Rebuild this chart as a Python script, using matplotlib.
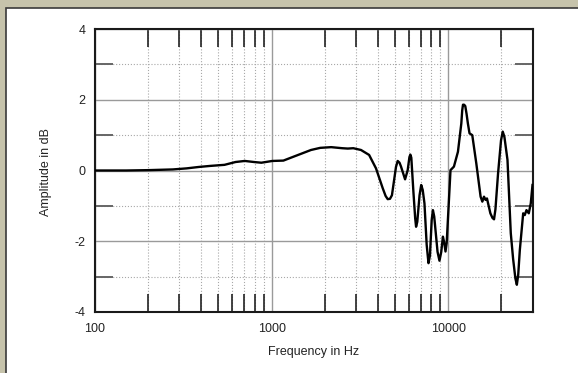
import matplotlib
matplotlib.use("Agg")
import matplotlib.pyplot as plt
from matplotlib.patches import Rectangle
from matplotlib.ticker import FixedLocator, FuncFormatter, LogLocator, NullFormatter

plt.rcParams["font.family"] = ["Liberation Sans", "DejaVu Sans"]
plt.rcParams["axes.unicode_minus"] = False

# frequency response
freq_hz = [100, 150, 200, 276, 330, 387, 450, 541, 625, 705, 794, 875, 1010,
           1166, 1283, 1482, 1671, 1884, 2175, 2512, 2700, 2900, 3206, 3565,
           3900, 4256, 4420, 4543, 4680, 4800, 5060, 5174, 5300, 5404, 5697,
           5894, 6030, 6105, 6180, 6350, 6500, 6576, 6680, 6880, 7030, 7170,
           7335, 7550, 7730, 7880, 8060, 8190, 8330, 8700, 8920, 9130, 9330,
           9500, 9650, 9800, 10300, 10770, 11350, 11860, 12000, 12120, 12300,
           12490, 12700, 12920, 13200, 13680, 14420, 15250, 15600, 15940,
           16270, 16570, 17320, 17800, 18170, 18500, 19150, 19900, 20350,
           20800, 21650, 22600, 23300, 24000, 24460, 24900, 25430, 26570,
           27120, 27730, 28580, 29330, 30000]
amp_db = [0.00, 0.00, 0.01, 0.03, 0.06, 0.10, 0.13, 0.16, 0.24, 0.27, 0.24,
          0.22, 0.27, 0.28, 0.36, 0.48, 0.58, 0.64, 0.66, 0.63, 0.62, 0.63,
          0.58, 0.44, 0.06, -0.50, -0.72, -0.81, -0.80, -0.70, 0.10, 0.27,
          0.22, 0.11, -0.25, 0.01, 0.38, 0.45, 0.36, -0.60, -1.35, -1.59,
          -1.45, -0.70, -0.41, -0.55, -0.93, -2.10, -2.62, -2.40, -1.40,
          -1.12, -1.30, -2.30, -2.55, -2.30, -1.87, -2.05, -2.29, -2.05,
          0.01, 0.11, 0.53, 1.33, 1.70, 1.86, 1.86, 1.82, 1.60, 1.33, 1.05,
          1.00, 0.20, -0.74, -0.88, -0.74, -0.83, -0.79, -1.21, -1.34, -1.38,
          -1.10, -0.08, 0.85, 1.10, 0.95, 0.30, -1.77, -2.50, -3.05, -3.23,
          -2.95, -2.25, -1.21, -1.26, -1.12, -1.21, -0.93, -0.41]

x_major = [100, 1000, 10000]
y_major = [-4, -2, 0, 2, 4]
y_minor = [-3, -1, 1, 3]

BEIGE = "#c6c3ab"

fig = plt.figure(figsize=(5.78, 3.73), dpi=100)
fig.patch.set_facecolor(BEIGE)
fig.patches.append(Rectangle((6 / 578, -0.1), 1.2, 1 - 8 / 373 + 0.1,
                             transform=fig.transFigure, facecolor="white",
                             edgecolor="#3a3a3a", linewidth=1.2, zorder=-5))

ax = fig.add_axes([95 / 578, 1 - 312 / 373, 437.5 / 578, 283 / 373])
ax.set_zorder(2)
ax.set_facecolor("white")
ax.plot(freq_hz, amp_db, color="black", lw=1.7, zorder=3)

ax.set_xscale("log")
ax.set_xlim(100, 30000)
ax.set_ylim(-4, 4)

ax.xaxis.set_major_locator(FixedLocator(x_major))
ax.xaxis.set_major_formatter(FuncFormatter(lambda v, p: f"{int(v)}"))
ax.xaxis.set_minor_locator(LogLocator(base=10, subs=range(2, 10)))
ax.xaxis.set_minor_formatter(NullFormatter())
ax.yaxis.set_major_locator(FixedLocator(y_major))
ax.yaxis.set_minor_locator(FixedLocator(y_minor))

ax.grid(which="major", color="#9a9a9a", lw=1.0, ls="-", zorder=1)
ax.grid(which="minor", color="#a8a8a8", lw=0.8, ls=":", zorder=1)

ax.tick_params(which="major", length=0, labelsize=9, colors="#222222")
ax.tick_params(axis="x", which="major", pad=8)
ax.tick_params(axis="y", which="major", pad=7)
ax.tick_params(axis="x", which="minor", direction="in", length=13,
               width=1.2, color="#222222", top=True, bottom=True)
ax.tick_params(axis="y", which="minor", direction="in", length=13,
               width=1.4, color="#666666", left=True, right=True)

for sp in ax.spines.values():
    sp.set_linewidth(1.5)
    sp.set_color("#1a1a1a")

fig.text(46 / 578, 1 - 172 / 373, "Amplitude in dB", rotation=90,
         ha="center", va="center", fontsize=9, color="#222222")
fig.text(314 / 578, 1 - 352 / 373, "Frequency in Hz",
         ha="center", va="center", fontsize=9, color="#222222")

fig.savefig("out.png", dpi=100, facecolor=BEIGE)
